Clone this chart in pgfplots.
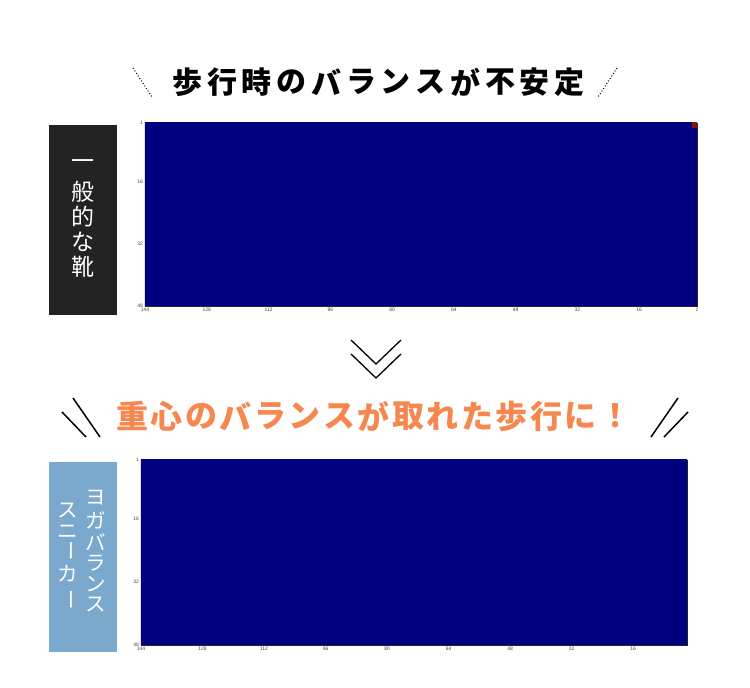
\documentclass[border=0pt]{standalone}
\usepackage{fontspec}
\setmainfont{Liberation Sans}
\newfontfamily\cjk{Noto Sans CJK JP}
\usepackage{pgfplots}
\pgfplotsset{compat=1.18}
\definecolor{boxblack}{HTML}{232323}
\definecolor{boxblue}{HTML}{7BA8CD}
\definecolor{headorange}{HTML}{F5874F}
\definecolor{ticktext}{HTML}{444444}
\definecolor{jetnavy}{HTML}{000080}
\definecolor{jetred}{HTML}{8A1010}
\pgfplotsset{
  heat/.style={
    scale only axis, anchor=north west,
    x dir=reverse, y dir=reverse,
    ymin=1, ymax=48, xmax=144,
    ytick={1,16,32,48},
    tick style={draw=none},
    ticklabel style={font=\fontsize{5}{6}\selectfont, text=ticktext},
    xticklabel style={yshift=1.5pt},
    yticklabel style={xshift=1.5pt},
    /pgf/number format/assume math mode=true,
    axis line style={black!85, line width=0.3pt},
  }
}
\begin{document}
\begin{tikzpicture}[x=1pt,y=1pt]
\path[use as bounding box] (0,0) rectangle (750,688);
% heading 1
\foreach \c [count=\i from 0] in {歩,行,時,の,バ,ラ,ン,ス,が,不,安,定}
  \node[font=\cjk\bfseries\fontsize{30}{30}\selectfont, inner sep=0] at ({187.4+34.75*\i},606) {\c};
\draw[dotted, line width=1pt] (133,620) -- (152,591);
\draw[dotted, line width=1pt] (617,620) -- (598,591);
% top label box
\fill[boxblack] (49,563) rectangle (117,373);
\foreach \c/\yy in {一/523, 般/496, 的/471, な/446, 靴/421}
  \node[font=\cjk\fontsize{23}{23}\selectfont, text=white, inner sep=0] at (83,\yy) {\c};
% top heatmap
\begin{axis}[heat, at={(145pt,565pt)}, width=552pt, height=183pt,
  xmin=1, xtick={144,128,112,96,80,64,48,32,16,1}]
\addplot[draw=none, fill=jetnavy] coordinates {(0.5,0.5) (144.5,0.5) (144.5,48.5) (0.5,48.5)} -- cycle;
\addplot[draw=none, fill=jetred] coordinates {(0.5,0.5) (2.2,0.5) (2.2,2.2) (0.5,2.2)} -- cycle;
\end{axis}
% chevrons
\draw[line width=1.3pt] (351,348) -- (376,324) -- (401,348);
\draw[line width=1.3pt] (351,334) -- (376,310) -- (401,334);
% heading 2
\foreach \c [count=\i from 0] in {重,心,の,バ,ラ,ン,ス,が,取,れ,た,歩,行,に,！}
  \node[font=\cjk\bfseries\fontsize{32}{32}\selectfont, text=headorange, inner sep=0] at ({132.25+34.5*\i},272) {\c};
\draw[line width=1.5pt] (73,290) -- (100,251);
\draw[line width=1.5pt] (62,276) -- (86,251);
\draw[line width=1.5pt] (678,290) -- (651,251);
\draw[line width=1.5pt] (688,276) -- (664,251);
% bottom label box
\fill[boxblue] (49,226) rectangle (117,36);
\foreach \c/\yy in {ヨ/190, ガ/168, バ/146, ラ/125, ン/104, ス/83}
  \node[font=\cjk\fontsize{20.5}{20.5}\selectfont, text=white, inner sep=0] at (96,\yy) {\c};
\foreach \c/\yy in {ス/177, ニ/156, カ/114}
  \node[font=\cjk\fontsize{20.5}{20.5}\selectfont, text=white, inner sep=0] at (68,\yy) {\c};
\foreach \yy in {137, 88}
  \node[font=\cjk\fontsize{20.5}{20.5}\selectfont, text=white, inner sep=0, rotate=-90] at (68,\yy) {ー};
% bottom heatmap
\begin{axis}[heat, at={(141pt,228pt)}, width=546pt, height=185pt,
  xmin=2, xtick={144,128,112,96,80,64,48,32,16}]
\addplot[draw=none, fill=jetnavy] coordinates {(0.5,0.5) (144.5,0.5) (144.5,48.5) (0.5,48.5)} -- cycle;
\end{axis}
\end{tikzpicture}
\end{document}
